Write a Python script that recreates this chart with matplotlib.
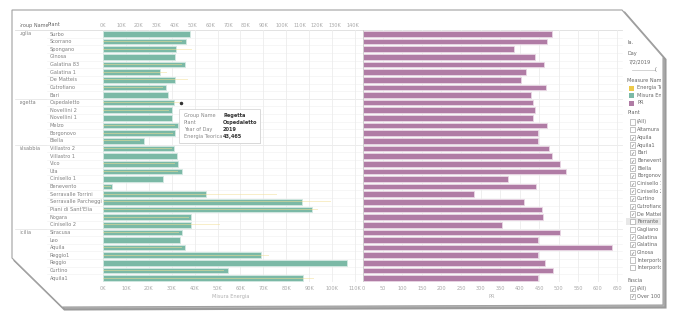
import numpy as np
import matplotlib
matplotlib.use("Agg")
from matplotlib import pyplot as plt
from matplotlib.patches import Polygon, Rectangle
from matplotlib.transforms import Bbox, TransformedBbox

plt.rcParams['font.family'] = ['DejaVu Sans']

# ---------------------------------------------------------------- data
groups = ["Puglia", "Regetta", "Valsabbia", "Sicilia"]
group_sizes = [9, 6, 11, 7]

plants = ["Surbo", "Scorrano", "Spongano", "Ginosa", "Galatina 83", "Galatina 1",
          "De Matteis", "Cutrofiano", "Bari",
          "Ospedaletto", "Novellini 2", "Novellini 1", "Melzo", "Borgonovo", "Biella",
          "Villastro 2", "Villastro 1", "Vico", "Uta", "Cinisello 1", "Benevento",
          "Serravalle Torrini", "Serravalle Parcheggi", "Piani di Sant'Elia", "Nogara",
          "Cinisello 2",
          "Siracusa", "Leo", "Aquila", "Reggio1", "Reggio", "Curtino", "Aquila1"]

misura_energia = [37900, 36400, 31700, 31400, 35900, 24700, 31600, 27300, 28300,
                  31100, 30000, 30300, 32700, 31400, 17800,
                  31100, 32100, 32700, 34400, 26300, 4000, 44900, 86700, 91400, 38600,
                  38600,
                  34300, 33700, 35700, 69000, 106700, 54500, 87400]

energia_teorica = [46000, 44000, 49900, 43400, 44500, 35900, 47700, 33500, 40000,
                   43465, 37000, 38000, 40500, 39000, 21000,
                   38500, 40000, 40500, 42000, 43400, 4500, 97200, 127700, 120600, 48000,
                   65800,
                   42500, 45200, 44000, 92900, 132000, 68000, 118100]

pr = [484, 470, 386, 440, 463, 416, 403, 468, 428,
      434, 440, 433, 470, 446, 446,
      474, 484, 504, 518, 371, 442, 282, 411, 456, 461, 355,
      503, 447, 636, 447, 465, 485, 448]

bottom_ticks = np.arange(0, 110001, 10000)
top_ticks = np.arange(0, 140001, 10000)
pr_ticks = np.arange(0, 651, 50)

filter_plants = ["(All)", "Altamura", "Aquila", "Aquila1", "Bari", "Benevento", "Biella",
                 "Borgonovo", "Cinisello 1", "Cinisello 2", "Curtino", "Cutrofiano",
                 "De Matteis", "Ferrante", "Gagliano", "Galatina", "Galatina", "Ginosa",
                 "Interporto", "Interporto"]
filter_checked = [0, 0, 1, 1, 1, 1, 1, 1, 1, 1, 1, 1, 1, 0, 0, 1, 1, 1, 0, 0]

# ---------------------------------------------------------------- colours
TEAL = "#7bb9a6"
PURPLE = "#b07ca5"
YELLOW = "#edc948"
PALE_Y = "#f3df95"
GRID = "#ececec"
TXT = "#808080"
TICK = "#a8a8a8"
FS = 3.6

W, H = 676, 321


def fx(x):
    return x / W


def fy(y):
    return 1 - y / H


fig = plt.figure(figsize=(W / 100, H / 100), dpi=100)
fig.patch.set_facecolor("white")

# paper-like panel with clipped corners and shadow
panel = [(12, 10), (622, 10), (663, 57), (663, 305), (62, 307), (12, 258)]
shadow = Polygon([(fx(x + 2.5), fy(y + 2.5)) for x, y in panel], closed=True,
                 transform=fig.transFigure, facecolor="#b5b5b5", edgecolor="#9a9a9a",
                 lw=1.5, zorder=-3)
paper = Polygon([(fx(x), fy(y)) for x, y in panel], closed=True,
                transform=fig.transFigure, facecolor="white", edgecolor="#a0a0a0",
                lw=0.8, zorder=-2)
fig.patches.extend([shadow, paper])

n = len(plants)
ROW0, ROWH = 34.0, 7.63
y = np.arange(n)

# ---------------------------------------------------------------- left chart
axL = fig.add_axes([fx(101), fy(ROW0 + (n - 0.5) * ROWH), fx(360 - 101),
                    (n * ROWH) / H])
axL.patch.set_alpha(0)
axL.set_ylim(n - 0.5, -0.5)
axL.set_xlim(-2 / 22.9 * 10000, (360 - 103) / 22.9 * 10000)
axL.barh(y, misura_energia, height=0.74, color=TEAL, edgecolor="#d3e9e2", lw=0.6, zorder=2)
axL.set_xticks(bottom_ticks)
axL.set_xticklabels([f"{v // 1000}K" for v in bottom_ticks], fontsize=FS, color=TICK)
axL.set_yticks([])
axL.tick_params(axis="x", length=0, pad=3)
axL.grid(axis="x", color=GRID, lw=0.6, zorder=0)
axL.set_xlabel("Misura Energia", fontsize=FS, color="#b0b0b0", labelpad=2)
for s in axL.spines.values():
    s.set_visible(False)

axT = axL.twiny()
axT.patch.set_alpha(0)
axT.set_xlim(-2 / 17.857 * 10000, (360 - 103) / 17.857 * 10000)
axT.barh(y, energia_teorica, height=0.1, color=PALE_Y, alpha=0.5, zorder=3)
axT.set_xticks(top_ticks)
axT.set_xticklabels([f"{v // 1000}K" for v in top_ticks], fontsize=FS, color=TICK)
axT.tick_params(axis="x", length=0, pad=1.5)
for s in axT.spines.values():
    s.set_visible(False)
axT.plot([energia_teorica[9]], [9], marker="o", ms=1.5, color="#333333", zorder=5)

# ---------------------------------------------------------------- right chart
axR = fig.add_axes([fx(362), fy(ROW0 + (n - 0.5) * ROWH), fx(622 - 362), (n * ROWH) / H])
axR.patch.set_alpha(0)
axR.set_ylim(n - 0.5, -0.5)
axR.set_xlim(-1.3 / 0.3908, (622 - 363.3) / 0.3908)
axR.barh(y, pr, height=0.74, color=PURPLE, edgecolor="#ead7e5", lw=0.6, zorder=2)
axR.set_xticks(pr_ticks)
axR.set_xticklabels([str(v) for v in pr_ticks], fontsize=FS, color=TICK)
axR.set_yticks([])
axR.tick_params(axis="x", length=0, pad=3)
axR.grid(axis="x", color=GRID, lw=0.6, zorder=0)
axR.set_xlabel("PR", fontsize=FS, color="#b0b0b0", labelpad=2)
for s in axR.spines.values():
    s.set_visible(False)
axR.axvline(0, color="#cccccc", lw=0.6)

# ---------------------------------------------------------------- row table
clip = TransformedBbox(Bbox([[fx(20), 0], [fx(100), 1]]), fig.transFigure)
t = fig.text(fx(17), fy(25), "Group Name", fontsize=FS, color="#666666", va="center",
             clip_on=True)
t.set_clip_box(clip)
fig.text(fx(48), fy(25), "Plant", fontsize=FS, color="#666666", va="center")
fig.add_artist(plt.Line2D([fx(15), fx(622)], [fy(29.5), fy(29.5)],
                          transform=fig.transFigure, color="#dddddd", lw=0.6, zorder=-1))

start = 0
for g, sz in zip(groups, group_sizes):
    t = fig.text(fx(16.5), fy(ROW0 + start * ROWH), g, fontsize=FS, color=TXT,
                 va="center", clip_on=True)
    t.set_clip_box(clip)
    if start > 0:
        fig.add_artist(plt.Line2D([fx(15), fx(622)],
                                  [fy(ROW0 + (start - 0.5) * ROWH)] * 2,
                                  transform=fig.transFigure, color="#e2e2e2", lw=0.5,
                                  zorder=-1))
    start += sz

for i, p in enumerate(plants):
    fig.text(fx(50), fy(ROW0 + i * ROWH), p, fontsize=FS, color=TXT, va="center")
    if i > 0:
        fig.add_artist(plt.Line2D([fx(47), fx(622)], [fy(ROW0 + (i - 0.5) * ROWH)] * 2,
                                  transform=fig.transFigure, color="#efefef", lw=0.4,
                                  zorder=-1))

# tooltip
fig.patches.append(Rectangle((fx(180), fy(143.5)), fx(81), 33.5 / H,
                             transform=fig.transFigure, facecolor="#dddddd",
                             edgecolor="none", zorder=8))
fig.patches.append(Rectangle((fx(179), fy(142.5)), fx(81), 33.5 / H,
                             transform=fig.transFigure, facecolor="white",
                             edgecolor="#d0d0d0", lw=0.5, zorder=9))
tip = [("Group Name", "Regetta"), ("Plant", "Ospedaletto"),
       ("Year of Day", "2019"), ("Energia Teorica", "43,465")]
for k, (lab, val) in enumerate(tip):
    yy = fy(115.7 + k * 7)
    fig.text(fx(184), yy, lab, fontsize=FS, color="#888888", va="center", zorder=10)
    fig.text(fx(223), yy, val, fontsize=FS, color="#333333", va="center",
             weight="bold", zorder=10)

# ---------------------------------------------------------------- side panel
pclip = TransformedBbox(Bbox([[fx(620), 0], [fx(661), 1]]), fig.transFigure)


def side_text(x, yy, s, **kw):
    t = fig.text(fx(x), fy(yy), s, fontsize=FS, color="#666666", va="center",
                 clip_on=True, **kw)
    t.set_clip_box(pclip)
    return t


side_text(627, 43, "Ia.")
side_text(627, 54, "Day")
side_text(629, 62, "7/2/2019")
fig.add_artist(plt.Line2D([fx(632), fx(655)], [fy(70)] * 2, transform=fig.transFigure,
                          color="#cccccc", lw=0.6))
side_text(655, 70, "(")
side_text(627, 80, "Measure Names")
for k, (c, lab) in enumerate([(YELLOW, "Energia Teorica"), (TEAL, "Misura Energia"),
                              (PURPLE, "PR")]):
    yy = 88 + k * 7.5
    fig.patches.append(Rectangle((fx(629), fy(yy + 2.5)), fx(5), 5 / H,
                                 transform=fig.transFigure, facecolor=c, edgecolor="none"))
    side_text(637, yy, lab)
side_text(627, 113, "Plant")


def checkbox(yy, checked):
    fig.patches.append(Rectangle((fx(629.5), fy(yy + 2.6)), fx(5.2), 5.2 / H,
                                 transform=fig.transFigure, facecolor="white",
                                 edgecolor="#aaaaaa", lw=0.5))
    if checked:
        fig.text(fx(632.1), fy(yy), "\u2713", fontsize=3.6, color="#666666",
                 ha="center", va="center")


for k, (lab, chk) in enumerate(zip(filter_plants, filter_checked)):
    yy = 122 + k * 7.67
    if lab == "Ferrante":
        fig.patches.append(Rectangle((fx(626), fy(yy + 3.5)), fx(35), 7 / H,
                                     transform=fig.transFigure, facecolor="#e8e8e8",
                                     edgecolor="none"))
    checkbox(yy, chk)
    side_text(637, yy, lab)

side_text(627, 281, "Fascia")
for k, lab in enumerate(["(All)", "Over 100"]):
    yy = 288.5 + k * 7.67
    checkbox(yy, 1)
    side_text(637, yy, lab)

fig.savefig("out.png", dpi=100, facecolor="white")
